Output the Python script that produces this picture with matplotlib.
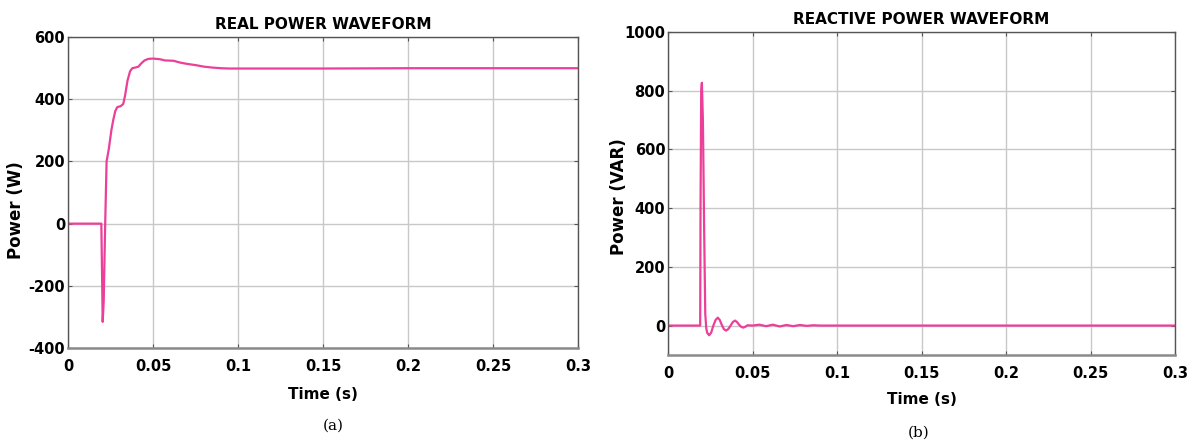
import numpy as np
import matplotlib.pyplot as plt

# real power response (time in s, power in W)
t_p = [0.0, 0.0196, 0.0200, 0.0204, 0.0210, 0.0218, 0.0227, 0.0240, 0.0255, 0.0266,
       0.0278, 0.0290, 0.0310, 0.0325, 0.0335, 0.0350, 0.0365, 0.0378, 0.0395,
       0.0414, 0.0430, 0.0450, 0.0472, 0.0500, 0.0540, 0.0570, 0.0620, 0.0660,
       0.0700, 0.0750, 0.0800, 0.0850, 0.0900, 0.0950, 0.1000, 0.1500, 0.2000,
       0.2500, 0.3000]
p_w = [0, 0, -150, -316, -250, -20, 200, 240, 300, 333,
       362, 375, 378, 385, 410, 460, 490, 500, 502,
       505, 515, 525, 530, 531, 529, 525, 524, 518,
       514, 510, 505, 502, 500, 499, 499, 499, 500,
       500, 500]

# reactive power response (time in s, power in VAR)
t_q = [0.0, 0.0190, 0.0192, 0.0196, 0.0200, 0.0206, 0.0214, 0.0220, 0.0226, 0.0232,
       0.0243, 0.0255, 0.0268, 0.0281, 0.0294, 0.0306, 0.0318, 0.0330, 0.0343,
       0.0356, 0.0370, 0.0383, 0.0396, 0.0408, 0.0420, 0.0432, 0.0444, 0.0457,
       0.0470, 0.0500, 0.0540, 0.0580, 0.0620, 0.0660, 0.0700, 0.0740, 0.0780,
       0.0820, 0.0860, 0.0900, 0.1000, 0.1500, 0.2000, 0.2500, 0.3000]
q_var = [0, 0, 400, 800, 827, 700, 300, 40, -10, -25,
         -33, -24, 0, 19, 27, 19, 2, -12, -17,
         -12, 0, 12, 17, 12, 3, -4, -7, -4,
         1, 0, 3, -2, 3, -3, 2, -2, 2,
         -1, 1, 0, 0, 0, 0, 0, 0]

x_ticks = [0, 0.05, 0.1, 0.15, 0.2, 0.25, 0.3]
x_labels = ['0', '0.05', '0.1', '0.15', '0.2', '0.25', '0.3']

pink = '#ec3f98'
plt.rcParams['font.family'] = 'DejaVu Sans'
plt.rcParams['axes.unicode_minus'] = False

fig = plt.figure(figsize=(11.93, 4.42), dpi=100)
ax1 = fig.add_axes([0.057, 0.2127, 0.4275, 0.7033])
ax2 = fig.add_axes([0.560, 0.197, 0.425, 0.7306])


def style(ax, title, ylabel, yticks, ylab_xy, xlab_y):
    ax.set_xlim(0, 0.3)
    ax.set_xticks(x_ticks)
    ax.set_xticklabels(x_labels)
    ax.set_yticks(yticks)
    ax.grid(True, color='#c8c8c8', linewidth=1.0)
    ax.set_axisbelow(True)
    for s in ax.spines.values():
        s.set_color('#555555')
        s.set_linewidth(1.0)
    ax.spines['bottom'].set_linewidth(1.8)
    ax.spines['bottom'].set_color('#8a8a8a')
    ax.tick_params(direction='in', length=3, width=0.8, color='#555555',
                   labelsize=10.5, top=True, right=True)
    ax.tick_params(axis='x', pad=8)
    ax.tick_params(axis='y', pad=2)
    for lab in ax.get_xticklabels() + ax.get_yticklabels():
        lab.set_fontweight('bold')
    ax.set_title(title, fontsize=11, fontweight='bold', pad=6)
    ax.set_xlabel('Time (s)', fontsize=11, fontweight='bold')
    ax.set_ylabel(ylabel, fontsize=12, fontweight='bold')
    ax.yaxis.set_label_coords(*ylab_xy)
    ax.xaxis.set_label_coords(0.5, xlab_y)


ax1.plot(t_p, p_w, color=pink, linewidth=1.6)
ax1.set_ylim(-400, 600)
style(ax1, 'REAL POWER WAVEFORM', 'Power (W)', np.arange(-400, 601, 200),
      (-0.084, 0.444), -0.125)

ax2.plot(t_q, q_var, color=pink, linewidth=1.6)
ax2.set_ylim(-100, 1000)
style(ax2, 'REACTIVE POWER WAVEFORM', 'Power (VAR)', np.arange(0, 1001, 200),
      (-0.079, 0.489), -0.115)

fig.text(0.279, 0.038, '(a)', ha='center', va='center', fontsize=11, family='serif')
fig.text(0.770, 0.022, '(b)', ha='center', va='center', fontsize=11, family='serif')

fig.savefig('out.png', dpi=100)
